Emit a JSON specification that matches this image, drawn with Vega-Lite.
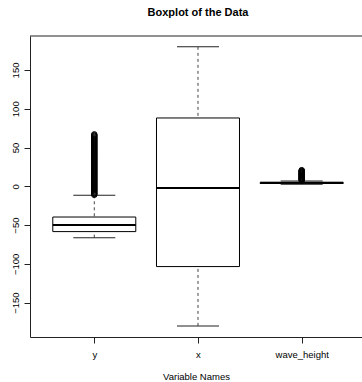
{
  "$schema": "https://vega.github.io/schema/vega-lite/v6.json",
  "width": 332,
  "height": 301,
  "autosize": "none",
  "padding": {"left": 30, "top": 36, "right": 0, "bottom": 45},
  "background": "white",
  "config": {
    "view": {"stroke": null},
    "font": "Liberation Sans",
    "axis": {"labelFont": "Liberation Sans", "titleFont": "Liberation Sans", "labelColor": "black", "titleColor": "black", "tickColor": "#222", "domainColor": "#222", "grid": false}
  },
  "title": {"text": "Boxplot of the Data", "fontSize": 11, "fontWeight": "bold", "font": "Liberation Sans", "color": "black", "anchor": "middle", "offset": 18, "dx": 2},
  "datasets": {
    "stats": [
      {"variable": "y", "lower": -66.2, "q1": -58.4, "median": -49.9, "q3": -39.6, "upper": -11.6},
      {"variable": "x", "lower": -180, "q1": -103.5, "median": -2.2, "q3": 88.1, "upper": 179.8},
      {"variable": "wave_height", "lower": 2.6, "q1": 3.6, "median": 4.3, "q3": 5.0, "upper": 7.0}
    ],
    "outliers": [
      {"variable": "y", "value": -11}, {"variable": "y", "value": -10}, {"variable": "y", "value": -9}, {"variable": "y", "value": -8},
      {"variable": "y", "value": -7}, {"variable": "y", "value": -6}, {"variable": "y", "value": -5}, {"variable": "y", "value": -4},
      {"variable": "y", "value": -3}, {"variable": "y", "value": -2}, {"variable": "y", "value": -1}, {"variable": "y", "value": 0},
      {"variable": "y", "value": 1}, {"variable": "y", "value": 2}, {"variable": "y", "value": 3}, {"variable": "y", "value": 4},
      {"variable": "y", "value": 5}, {"variable": "y", "value": 6}, {"variable": "y", "value": 7}, {"variable": "y", "value": 8},
      {"variable": "y", "value": 9}, {"variable": "y", "value": 10}, {"variable": "y", "value": 11}, {"variable": "y", "value": 12},
      {"variable": "y", "value": 13}, {"variable": "y", "value": 14}, {"variable": "y", "value": 15}, {"variable": "y", "value": 16},
      {"variable": "y", "value": 17}, {"variable": "y", "value": 18}, {"variable": "y", "value": 19}, {"variable": "y", "value": 20},
      {"variable": "y", "value": 21}, {"variable": "y", "value": 22}, {"variable": "y", "value": 23}, {"variable": "y", "value": 24},
      {"variable": "y", "value": 25}, {"variable": "y", "value": 26}, {"variable": "y", "value": 27}, {"variable": "y", "value": 28},
      {"variable": "y", "value": 29}, {"variable": "y", "value": 30}, {"variable": "y", "value": 31}, {"variable": "y", "value": 32},
      {"variable": "y", "value": 33}, {"variable": "y", "value": 34}, {"variable": "y", "value": 35}, {"variable": "y", "value": 36},
      {"variable": "y", "value": 37}, {"variable": "y", "value": 38}, {"variable": "y", "value": 39}, {"variable": "y", "value": 40},
      {"variable": "y", "value": 41}, {"variable": "y", "value": 42}, {"variable": "y", "value": 43}, {"variable": "y", "value": 44},
      {"variable": "y", "value": 45}, {"variable": "y", "value": 46}, {"variable": "y", "value": 47}, {"variable": "y", "value": 48},
      {"variable": "y", "value": 49}, {"variable": "y", "value": 50}, {"variable": "y", "value": 51}, {"variable": "y", "value": 52},
      {"variable": "y", "value": 53}, {"variable": "y", "value": 54}, {"variable": "y", "value": 55}, {"variable": "y", "value": 56},
      {"variable": "y", "value": 57}, {"variable": "y", "value": 58}, {"variable": "y", "value": 59}, {"variable": "y", "value": 60},
      {"variable": "y", "value": 61}, {"variable": "y", "value": 62}, {"variable": "y", "value": 63}, {"variable": "y", "value": 64},
      {"variable": "y", "value": 65}, {"variable": "y", "value": 66}, {"variable": "y", "value": 67},
      {"variable": "wave_height", "value": 7.6}, {"variable": "wave_height", "value": 8.2}, {"variable": "wave_height", "value": 8.8},
      {"variable": "wave_height", "value": 9.4}, {"variable": "wave_height", "value": 10.0}, {"variable": "wave_height", "value": 10.6},
      {"variable": "wave_height", "value": 11.2}, {"variable": "wave_height", "value": 11.8}, {"variable": "wave_height", "value": 12.4},
      {"variable": "wave_height", "value": 13.0}, {"variable": "wave_height", "value": 13.6}, {"variable": "wave_height", "value": 14.2},
      {"variable": "wave_height", "value": 14.8}, {"variable": "wave_height", "value": 15.4}, {"variable": "wave_height", "value": 16.0},
      {"variable": "wave_height", "value": 16.6}, {"variable": "wave_height", "value": 17.2}, {"variable": "wave_height", "value": 17.8},
      {"variable": "wave_height", "value": 18.4}, {"variable": "wave_height", "value": 19.0}, {"variable": "wave_height", "value": 19.6},
      {"variable": "wave_height", "value": 20.2}, {"variable": "wave_height", "value": 20.8}
    ]
  },
  "encoding": {
    "x": {
      "field": "variable", "type": "nominal", "sort": ["y", "x", "wave_height"],
      "scale": {"type": "point", "padding": 0.6008, "align": 0.516},
      "axis": {"orient": "bottom", "title": "Variable Names", "titleFontSize": 9.5, "titleFontWeight": "normal", "titlePadding": 13, "labelFontSize": 9.5, "labelAngle": 0, "labelPadding": 6, "tickSize": 6}
    }
  },
  "layer": [
    {
      "data": {"name": "stats"},
      "mark": {"type": "rule", "strokeDash": [3, 3], "color": "#444", "strokeWidth": 1},
      "encoding": {
        "y": {"field": "upper", "type": "quantitative", "scale": {"domain": [-194.3, 193.8], "nice": false, "zero": false},
          "axis": {"title": null, "values": [-150, -100, -50, 0, 50, 100, 150], "labelAngle": 270, "labelFontSize": 9.5, "tickSize": 6, "labelPadding": 4}},
        "y2": {"field": "q3"}
      }
    },
    {
      "data": {"name": "stats"},
      "mark": {"type": "rule", "strokeDash": [3, 3], "color": "#444", "strokeWidth": 1},
      "encoding": {"y": {"field": "lower", "type": "quantitative"}, "y2": {"field": "q1"}}
    },
    {
      "data": {"name": "stats"},
      "mark": {"type": "bar", "size": 83, "fill": "white", "stroke": "black", "strokeWidth": 1},
      "encoding": {"y": {"field": "q1", "type": "quantitative"}, "y2": {"field": "q3"}}
    },
    {
      "data": {"name": "stats"},
      "mark": {"type": "tick", "size": 83, "thickness": 2.2, "color": "black", "opacity": 1},
      "encoding": {"y": {"field": "median", "type": "quantitative"}}
    },
    {
      "data": {"name": "stats"},
      "mark": {"type": "tick", "size": 42, "thickness": 1, "color": "#222", "opacity": 1},
      "encoding": {"y": {"field": "upper", "type": "quantitative"}}
    },
    {
      "data": {"name": "stats"},
      "mark": {"type": "tick", "size": 42, "thickness": 1, "color": "#222", "opacity": 1},
      "encoding": {"y": {"field": "lower", "type": "quantitative"}}
    },
    {
      "data": {"name": "outliers"},
      "mark": {"type": "point", "shape": "circle", "filled": false, "size": 30, "stroke": "black", "strokeWidth": 1, "opacity": 1},
      "encoding": {"y": {"field": "value", "type": "quantitative"}}
    },
    {
      "data": {"values": [{"edge": "top"}]},
      "mark": {"type": "rule", "color": "#222", "strokeWidth": 1},
      "encoding": {"x": null, "y": {"datum": 193.8, "type": "quantitative"}}
    }
  ]
}
